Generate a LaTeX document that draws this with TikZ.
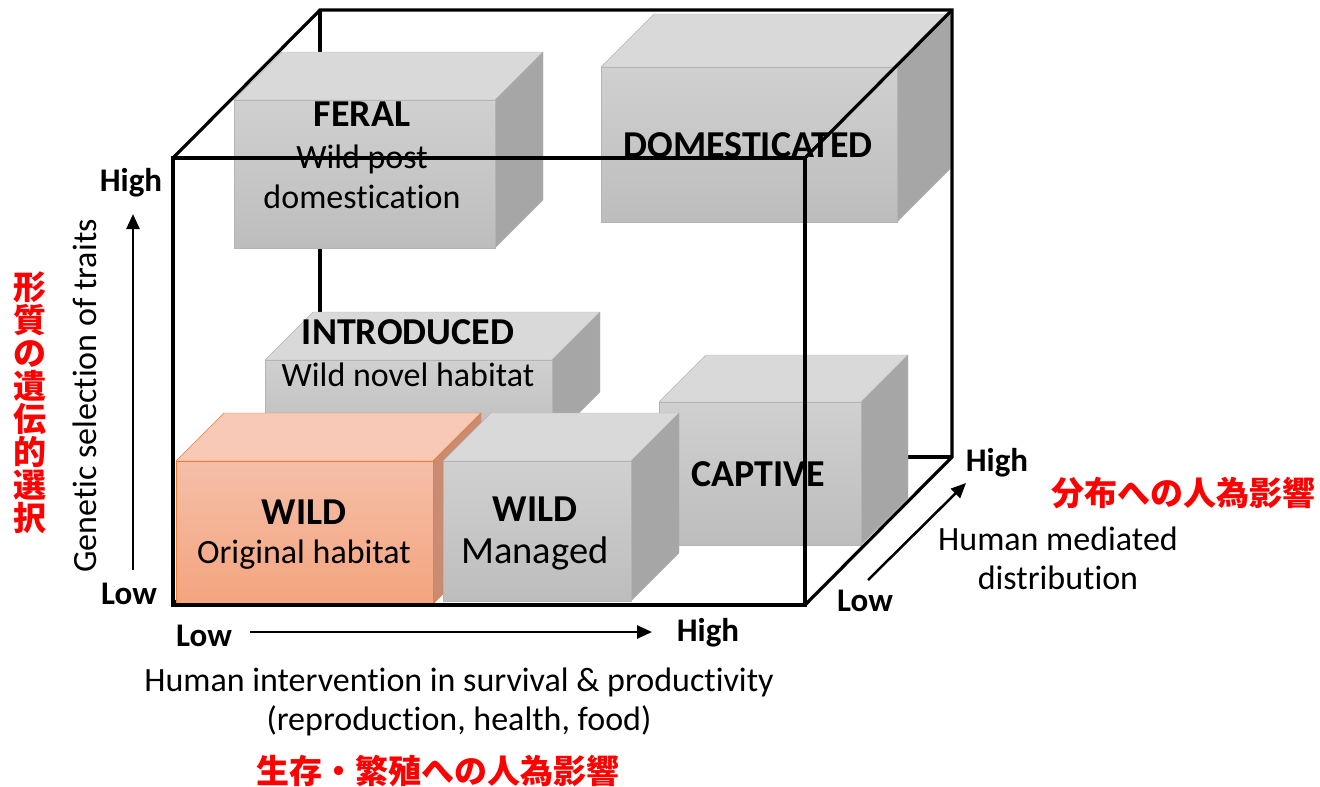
\documentclass[tikz,border=0pt]{standalone}
\usepackage{fontspec}
\setmainfont{Carlito}[Ligatures=NoCommon]
\newfontfamily\jpfont{Noto Sans CJK JP}
\usetikzlibrary{arrows.meta}

\definecolor{grtop}{HTML}{D9D9D9}
\definecolor{grfront}{HTML}{D0D0D0}
\definecolor{grbase}{HTML}{BDBDBD}
\definecolor{grside}{HTML}{A6A6A6}
\definecolor{grline}{HTML}{B4B4B4}
\definecolor{ortop}{HTML}{F7C9B6}
\definecolor{orfront}{HTML}{F5BFA8}
\definecolor{orbase}{HTML}{F4A47E}
\definecolor{orside}{HTML}{C98B72}
\definecolor{orline}{HTML}{ED7D31}
\definecolor{jpred}{HTML}{FF0000}

% box: x1, y1, x2, y2 of the front face, depth, colour set
\newcommand{\cuboid}[6]{%
  \filldraw[fill=#6top, draw=#6line] (#1,#2) -- ({#1+#5},{#2-#5}) -- ({#3+#5},{#2-#5}) -- (#3,#2) -- cycle;
  \filldraw[fill=#6side, draw=#6line] (#3,#2) -- ({#3+#5},{#2-#5}) -- ({#3+#5},{#4-#5}) -- (#3,#4) -- cycle;
  \shade[top color=#6front, bottom color=#6base, draw=#6line] (#1,#2) rectangle (#3,#4);
}

\begin{document}
\begin{tikzpicture}[x=1pt,y=-1pt,
  boxtitle/.style={font=\bfseries\fontsize{38}{42}\selectfont},
  boxtext/.style={font=\fontsize{34}{40}\selectfont, align=center},
  ticklbl/.style={font=\bfseries\fontsize{33}{36}\selectfont},
  axislbl/.style={font=\fontsize{34}{39}\selectfont, align=center},
  jplbl/.style={font=\jpfont\bfseries\fontsize{33}{33}\selectfont, text=jpred, align=center},
  frame/.style={line width=3.2pt},
  axis/.style={line width=2.5pt, -{Triangle[length=15pt,width=13pt]}}]

\useasboundingbox (0,0) rectangle (1320,787);

% hidden edges of the cube
\draw[frame] (320,10) -- (320,457) -- (952,457);
\draw[frame] (173,605) -- (320,457);

% boxes, back to front
\cuboid{601}{67}{897}{222}{53}{gr}
\cuboid{234}{100}{495}{248}{48}{gr}
\cuboid{265}{360}{552}{440}{48}{gr}
\cuboid{659}{402}{861}{545}{47}{gr}
\cuboid{176}{461}{433}{604}{48}{or}
\cuboid{443}{461}{631}{601}{48}{gr}

% box labels
\node[boxtitle] (feral) at (362,114) {FERAL};
\node[boxtext] (feraltx) at (362,177) {Wild post\\domestication};
\node[boxtitle] (domest) at (748,145) {DOMESTICATED};
\node[boxtitle] (intro) at (408,332) {INTRODUCED};
\node[boxtext] (introtx) at (408,375) {Wild novel habitat};
\node[boxtitle] (captive) at (758,474) {CAPTIVE};
\node[boxtitle] (wild) at (304,512) {WILD};
\node[boxtext] (wildtx) at (304,555) {Original habitat};
\node[boxtitle] (wildm) at (535,509) {WILD};
\node[boxtext, font=\fontsize{38.5}{40}\selectfont] (wildmtx) at (535,553) {Managed};

% visible edges of the cube
\draw[frame] (173,158) rectangle (805,605);
\draw[frame] (173,158) -- (320,10) -- (952,10) -- (952,457) -- (805,605);
\draw[frame] (805,158) -- (952,10);

% vertical axis
\coordinate (vlow) at (133,570);
\coordinate (vhigh) at (133,214);
\draw[axis] (vlow) -- (vhigh);
\node[ticklbl] (vhi) at (131,183) {High};
\node[ticklbl] (vlo) at (129,594) {Low};
\node[axislbl, rotate=90] (genetic) at (85,396) {Genetic selection of traits};
\node[jplbl] (geneticjp) at (30,403) {形\\質\\の\\遺\\伝\\的\\選\\択};

% horizontal axis
\coordinate (hlow) at (250,632);
\coordinate (hhigh) at (652,632);
\draw[axis] (hlow) -- (hhigh);
\node[ticklbl] (hlo) at (204,636) {Low};
\node[ticklbl] (hhi) at (708,633) {High};
\node[axislbl] (human) at (459,702) {Human intervention in survival \& productivity\\(reproduction, health, food)};
\node[jplbl] (humanjp) at (438,771) {生存・繁殖への人為影響};

% depth axis
\coordinate (dlow) at (868,580);
\coordinate (dhigh) at (966,483);
\draw[axis] (dlow) -- (dhigh);
\node[ticklbl] (dhi) at (997,463) {High};
\node[ticklbl] (dlo) at (865,601) {Low};
\node[axislbl] (distrib) at (1058,558) {Human mediated\\distribution};
\node[jplbl] (distribjp) at (1183,493) {分布への人為影響};
\end{tikzpicture}
\end{document}
